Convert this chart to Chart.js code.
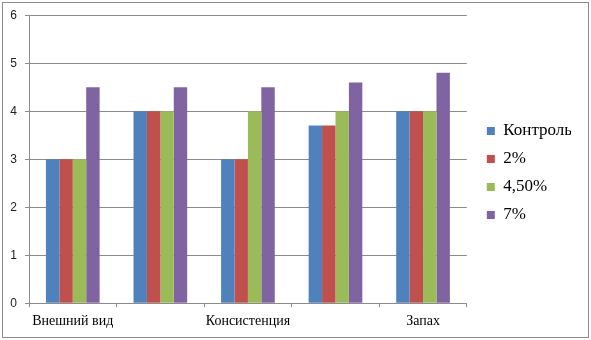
<!DOCTYPE html>
<html>
<head>
<meta charset="utf-8">
<script src="https://cdn.jsdelivr.net/npm/chart.js@4/dist/chart.umd.min.js"></script>
<style>
  body { margin: 0; background: #fff; }
  #wrap { position: relative; width: 591px; height: 340px; }
  #rama {
    position: absolute; left: 2px; top: 2px; width: 585px; height: 334px;
    border: 1px solid #8c8c8c; pointer-events: none;
  }
</style>
</head>
<body>
<div id="wrap">
  <canvas id="grafica" width="591" height="340"></canvas>
  <div id="rama"></div>
</div>
<script>
// categorias (las de los indices 1 y 3 no se leen en la imagen)
const categorias = ["Внешний вид", "", "Консистенция", "", "Запах"];
const series = ["Контроль", "2%", "4,50%", "7%"];

const control = [3, 4, 3, 3.7, 4];
const dos = [3, 4, 3, 3.7, 4];
const cuatroCinco = [3, 4, 4, 4, 4];
const siete = [4.5, 4.5, 4.5, 4.6, 4.8];

const colores = ["#4f81bd", "#c0504d", "#9bbb59", "#8064a2"];
const gris = "#8c8c8c";
const serif = "Liberation Serif, Times New Roman, DejaVu Serif, serif";

const ctx = document.getElementById("grafica").getContext("2d");
const chart = new Chart(ctx, {
  type: "bar",
  data: {
    labels: categorias,
    datasets: [control, dos, cuatroCinco, siete].map((d, i) => ({
      label: series[i],
      data: d,
      backgroundColor: colores[i],
      borderWidth: 0,
      barPercentage: 1,
      categoryPercentage: 0.613
    }))
  },
  options: {
    responsive: false,
    animation: false,
    layout: { padding: { top: 10, bottom: 4, left: 0, right: 20 } },
    plugins: {
      tooltip: { enabled: false },
      legend: {
        position: "right",
        labels: {
          boxWidth: 8,
          boxHeight: 8,
          padding: 11,
          color: "#000",
          font: { family: serif, size: 17 }
        }
      }
    },
    scales: {
      x: {
        grid: { display: true, drawOnChartArea: false, offset: true, tickLength: 4, color: gris },
        border: { color: gris },
        ticks: {
          autoSkip: false, maxRotation: 0, padding: 6, color: "#000",
          font: { family: serif, size: 14 }
        }
      },
      y: {
        min: 0, max: 6,
        afterFit: s => { s.width = 29; },
        grid: { color: gris, tickLength: 4 },
        border: { color: gris },
        ticks: {
          stepSize: 1, padding: 8, color: "#222",
          font: { family: "Liberation Sans, Arial, sans-serif", size: 12 }
        }
      },
      // eje vacio para separar la leyenda
      hueco: {
        position: "right",
        display: true,
        afterFit: s => { s.width = 9; },
        grid: { display: false },
        border: { display: false },
        ticks: { display: false }
      }
    }
  }
});
</script>
</body>
</html>
